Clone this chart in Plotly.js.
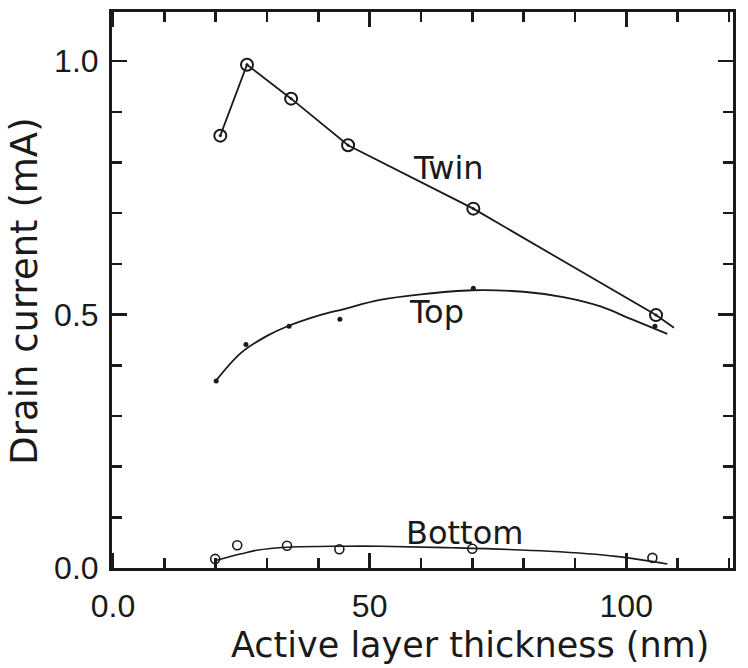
<!DOCTYPE html>
<html>
<head>
<meta charset="utf-8">
<script src="https://cdn.plot.ly/plotly-3.0.1.min.js"></script>
<style>html,body{margin:0;padding:0;background:#fff}#chart{width:748px;height:668px}</style>
</head>
<body>
<div id="chart"></div>
<script>
// Measured points
const twinX = [20.9, 26.1, 34.7, 45.8, 70.2, 105.8];
const twinY = [0.853, 0.993, 0.926, 0.834, 0.709, 0.499];
// Twin connecting line (extends slightly past the last point)
const twinLineX = [20.9, 26.1, 34.7, 45.8, 70.2, 105.8, 109.3];
const twinLineY = [0.853, 0.993, 0.926, 0.834, 0.709, 0.499, 0.474];

const topX = [20.1, 25.9, 34.3, 44.2, 70.2, 105.6];
const topY = [0.369, 0.441, 0.477, 0.491, 0.552, 0.477];
// Top fitted curve
const topCurveX = [20, 25, 30, 34, 40, 45, 52, 60, 70, 80, 88, 95, 101, 108];
const topCurveY = [0.369, 0.425, 0.458, 0.477, 0.498, 0.511, 0.529, 0.540, 0.548, 0.545, 0.534, 0.516, 0.491, 0.462];

const bottomX = [19.9, 24.2, 33.9, 44.1, 70.0, 105.1];
const bottomY = [0.018, 0.045, 0.044, 0.037, 0.038, 0.020];
// Bottom fitted curve
const bottomCurveX = [20, 25, 28, 34, 45, 52, 66, 85, 98, 108];
const bottomCurveY = [0.015, 0.028, 0.035, 0.041, 0.043, 0.043, 0.040, 0.033, 0.023, 0.008];

const xTickVals = [0, 50, 100];
const xTickText = ["0.0", "50", "100"];
const yTickVals = [0, 0.5, 1.0];
const yTickText = ["0.0", "0.5", "1.0"];

const seriesLabels = ["Twin", "Top", "Bottom"];

const ink = "#1a1a1a";
const traces = [
  {x: twinLineX, y: twinLineY, mode: "lines", line: {color: ink, width: 1.8}, hoverinfo: "skip"},
  {x: twinX, y: twinY, mode: "markers", marker: {symbol: "circle-open-dot", size: 12, color: ink, line: {width: 2, color: ink}}},
  {x: topCurveX, y: topCurveY, mode: "lines", line: {color: ink, width: 1.8, shape: "spline"}, hoverinfo: "skip"},
  {x: topX, y: topY, mode: "markers", marker: {symbol: "circle", size: 5, color: ink}},
  {x: bottomCurveX, y: bottomCurveY, mode: "lines", line: {color: ink, width: 1.6, shape: "spline"}, hoverinfo: "skip"},
  {x: bottomX, y: bottomY, mode: "markers", marker: {symbol: "circle-open", size: 9, color: ink, line: {width: 1.6, color: ink}}}
];

const labelFont = {family: "DejaVu Sans", size: 32, color: ink};
const layout = {
  width: 748, height: 668,
  margin: {l: 112, r: 15, t: 12, b: 100},
  paper_bgcolor: "#fff", plot_bgcolor: "#fff",
  showlegend: false,
  xaxis: {
    range: [-0.2, 120.8], showgrid: false, zeroline: false,
    showline: true, linecolor: ink, linewidth: 3, mirror: "allticks",
    ticks: "inside", ticklen: 15, tickwidth: 2.5, tickcolor: ink,
    tickvals: xTickVals, ticktext: xTickText, ticklabelstandoff: 8,
    tickfont: {family: "Liberation Sans", size: 32, color: ink},
    minor: {dtick: 10, tick0: 0, ticks: "inside", ticklen: 10, tickwidth: 2.5, tickcolor: ink, showgrid: false}
  },
  yaxis: {
    range: [0, 1.097], showgrid: false, zeroline: false,
    showline: true, linecolor: ink, linewidth: 3, mirror: "allticks",
    ticks: "inside", ticklen: 15, tickwidth: 2.5, tickcolor: ink,
    tickvals: yTickVals, ticktext: yTickText, ticklabelstandoff: 4,
    tickfont: {family: "Liberation Sans", size: 32, color: ink},
    minor: {dtick: 0.1, tick0: 0, ticks: "inside", ticklen: 10, tickwidth: 2.5, tickcolor: ink, showgrid: false}
  },
  annotations: [
    {text: seriesLabels[0], x: 65.3, y: 0.79, xref: "x", yref: "y", showarrow: false, font: labelFont},
    {text: seriesLabels[1], x: 63.0, y: 0.505, xref: "x", yref: "y", showarrow: false, font: labelFont},
    {text: seriesLabels[2], x: 68.4, y: 0.07, xref: "x", yref: "y", showarrow: false, font: labelFont},
    {text: "Active layer thickness (nm)", xref: "paper", yref: "paper", x: 0.577, y: -0.138, xanchor: "center", yanchor: "middle", showarrow: false, font: {family: "DejaVu Sans", size: 35, color: ink}},
    {text: "Drain current (mA)", xref: "paper", yref: "paper", x: -0.14, y: 0.497, xanchor: "center", yanchor: "middle", textangle: -90, showarrow: false, font: {family: "DejaVu Sans", size: 37, color: ink}}
  ]
};

Plotly.newPlot("chart", traces, layout, {staticPlot: true});
</script>
</body>
</html>
